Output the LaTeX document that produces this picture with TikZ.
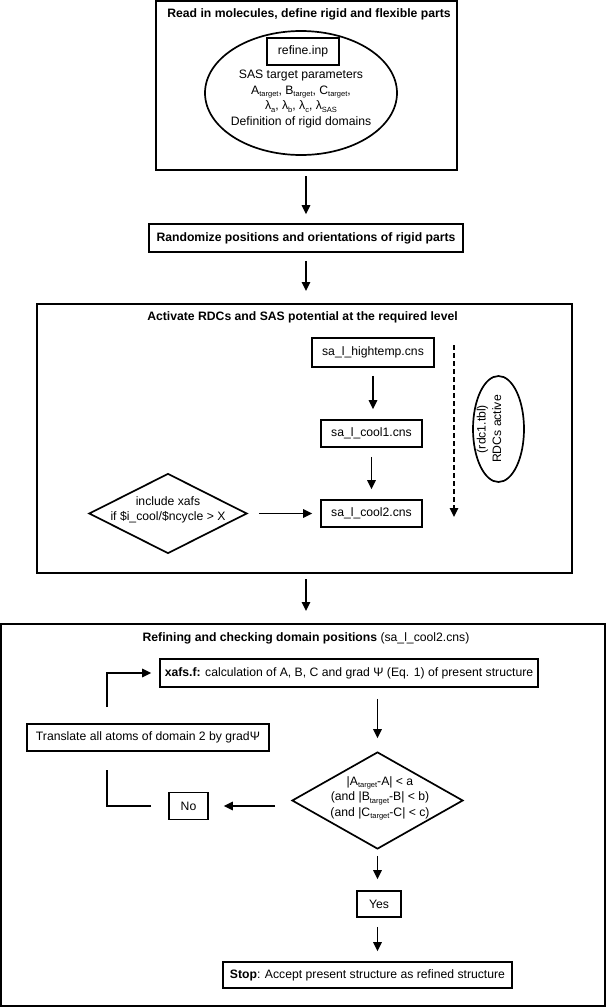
\documentclass[tikz,border=0pt]{standalone}
\usepackage{fontspec}
\setmainfont{Liberation Sans}
\usetikzlibrary{arrows.meta,shapes.geometric,calc}
\newcommand\lsub[1]{\raisebox{-0.4ex}{\fontsize{7.5}{8}\selectfont #1}}
\newcommand\mainsize{\fontsize{12.2}{15.5}\selectfont}
\begin{document}
\begin{tikzpicture}[x=1pt,y=-1pt, font=\mainsize,
  outerbox/.style={draw, line width=2pt, inner sep=0pt},
  stepbox/.style={draw, line width=1.7pt, inner sep=0pt},
  titletext/.style={font=\mainsize\bfseries},
  arr/.style={line width=1.6pt, -{Triangle[length=9pt,width=8.5pt]}},
  plainline/.style={line width=1.6pt}]
\useasboundingbox (0,0) rectangle (607,1007);

% ---------- Box 1 ----------
\node[outerbox, minimum width=301pt, minimum height=169pt] (b1) at (306.5,85.5) {};
\node[titletext] (t1) at (309,14) {Read in molecules, define rigid and flexible parts};
\node[ellipse, draw, line width=1.7pt, minimum width=192pt, minimum height=124pt, inner sep=0pt] (el1) at (301,93) {};
\node[stepbox, minimum width=72pt, minimum height=27pt] (ref) at (303,51.5) {refine.inp};
\node[align=center] (sas) at (301,99) {SAS target parameters\\
  A\lsub{target}, B\lsub{target}, C\lsub{target},\\
  λ\lsub{a}, λ\lsub{b}, λ\lsub{c}, λ\lsub{SAS}\\
  Definition of rigid domains};

% ---------- Box 2 ----------
\node[stepbox, titletext, minimum width=314pt, minimum height=28pt] (rand) at (306,238) {Randomize positions and orientations of rigid parts};

% ---------- Box 3 ----------
\node[outerbox, minimum width=535pt, minimum height=269pt] (b3) at (304.5,438.5) {};
\node[titletext] (t3) at (302.5,317) {Activate RDCs and SAS potential at the required level};
\node[stepbox, minimum width=122pt, minimum height=29pt] (ht) at (373,352.5) {sa\_l\_hightemp.cns};
\node[stepbox, minimum width=101pt, minimum height=27pt] (c1) at (371.5,433.5) {sa\_l\_cool1.cns};
\node[stepbox, minimum width=101pt, minimum height=27pt] (c2) at (371.5,513.5) {sa\_l\_cool2.cns};
\node[diamond, draw, line width=1.7pt, minimum width=158pt, minimum height=80pt, inner sep=0pt] (d1) at (168,513.5) {};
\node[align=center] (d1t) at (168,510) {include xafs\\ if \$i\_cool/\$ncycle > X};
\node[ellipse, draw, line width=1.7pt, minimum width=51pt, minimum height=106pt, inner sep=0pt] (el2) at (498.5,429) {};
\node[align=center, rotate=90] (el2t) at (489,429) {(rdc1.tbl)\\ RDCs active};
\coordinate (dA) at (454,345);
\coordinate (dB) at (454,517);

% ---------- Box 4 ----------
\node[outerbox, minimum width=604pt, minimum height=382pt] (b4) at (303,815) {};
\node (t4) at (306,638) {\textbf{Refining and checking domain positions} (sa\_l\_cool2.cns)};
\node[stepbox, minimum width=378pt, minimum height=28pt] (xafs) at (349,673) {\textbf{xafs.f:} calculation of A, B, C and grad Ψ (Eq. 1) of present structure};
\node[stepbox, minimum width=242pt, minimum height=27pt] (tr) at (148,737.5) {Translate all atoms of domain 2 by gradΨ};
\node[stepbox, minimum width=39pt, minimum height=27pt] (no) at (188.5,806) {No};
\node[diamond, draw, line width=1.7pt, minimum width=171pt, minimum height=97pt, inner sep=0pt] (d2) at (377.5,800.5) {};
\node[align=center] (d2t) at (380,798.5) {|A\lsub{target}-A| < a\\ (and |B\lsub{target}-B| < b)\\ (and |C\lsub{target}-C| < c)};
\node[stepbox, minimum width=44pt, minimum height=26pt] (yes) at (379,904) {Yes};
\node[stepbox, minimum width=289pt, minimum height=26pt] (stop) at (367.5,975) {\textbf{Stop}: Accept present structure as refined structure};
\coordinate (loopA) at (107,770);
\coordinate (loopB) at (107,707);

% ---------- Connectors ----------
\draw[arr, shorten <=5pt, shorten >=9pt] (b1.south -| rand.north) -- (rand.north);
\draw[arr, shorten <=8pt, shorten >=12pt] (rand.south) -- (rand.south |- b3.north);
\draw[arr, shorten <=8pt, shorten >=10pt] (ht.south) -- (ht.south |- c1.north);
\draw[arr, shorten <=9pt, shorten >=10pt] (c1.south) -- (c2.north);
\draw[arr, shorten <=11pt, shorten >=8pt] (d1.east) -- (c2.west);
\draw[arr, dash pattern=on 5pt off 3pt] (dA) -- (dB);
\draw[arr, shorten <=5pt, shorten >=12pt] (b3.south -| t4.north) -- (t4.north |- b4.north);
\draw[arr, shorten <=11pt, shorten >=13pt] (d2.north |- xafs.south) -- (d2.north);
\draw[arr, shorten <=16pt, shorten >=15pt] (d2.west |- no.east) -- (no.east);
\draw[plainline, shorten <=17pt] (no.west) -| (loopA);
\draw[arr, shorten >=8pt] (loopB) |- (xafs.west);
\draw[arr, shorten <=6pt, shorten >=11pt] (d2.south) -- (d2.south |- yes.north);
\draw[arr, shorten <=9pt, shorten >=10pt] (d2.south |- yes.south) -- (d2.south |- stop.north);
\end{tikzpicture}
\end{document}
